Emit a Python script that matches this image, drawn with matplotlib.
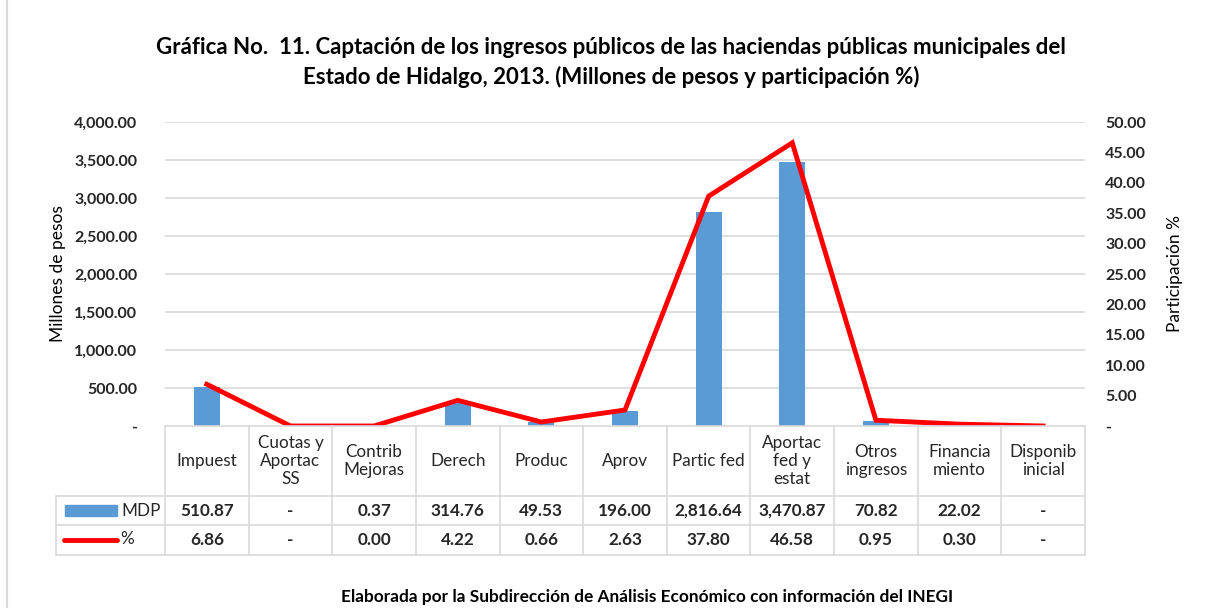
import matplotlib
matplotlib.use("Agg")
import matplotlib.pyplot as plt
from matplotlib.lines import Line2D
from matplotlib.patches import Rectangle

plt.rcParams['font.family'] = ['Lato', 'DejaVu Sans']

categories = ["Impuest", "Cuotas y\nAportac\nSS", "Contrib\nMejoras", "Derech", "Produc",
              "Aprov", "Partic fed", "Aportac\nfed y\nestat", "Otros\ningresos",
              "Financia\nmiento", "Disponib\ninicial"]
mdp = [510.87, 0.0, 0.37, 314.76, 49.53, 196.00, 2816.64, 3470.87, 70.82, 22.02, 0.0]
pct = [6.86, 0.0, 0.00, 4.22, 0.66, 2.63, 37.80, 46.58, 0.95, 0.30, 0.0]
mdp_labels = ["510.87", "-", "0.37", "314.76", "49.53", "196.00", "2,816.64", "3,470.87",
              "70.82", "22.02", "-"]
pct_labels = ["6.86", "-", "0.00", "4.22", "0.66", "2.63", "37.80", "46.58", "0.95", "0.30", "-"]
left_ticks = [0, 500, 1000, 1500, 2000, 2500, 3000, 3500, 4000]
left_tick_labels = ["-", "500.00", "1,000.00", "1,500.00", "2,000.00", "2,500.00",
                    "3,000.00", "3,500.00", "4,000.00"]
right_ticks = [0, 5, 10, 15, 20, 25, 30, 35, 40, 45, 50]
right_tick_labels = ["-", "5.00", "10.00", "15.00", "20.00", "25.00", "30.00", "35.00",
                     "40.00", "45.00", "50.00"]

W, H = 1212, 608
fig = plt.figure(figsize=(W / 100, H / 100), dpi=100)

def fy(py):
    return 1 - py / H

def fx(px):
    return px / W

x0, x1 = 165, 1085
ytop, ybot = 122, 426
ax = fig.add_axes([fx(x0), fy(ybot), fx(x1) - fx(x0), fy(ytop) - fy(ybot)])
n = len(categories)
xs = list(range(n))
ax.set_xlim(-0.5, n - 0.5)
ax.set_ylim(0, 4000)
grid_c = "#D9D9D9"
for t in left_ticks[1:]:
    ax.axhline(t, color=grid_c, lw=1.2, zorder=0)
ax.bar(xs, mdp, width=0.31, color="#5B9BD5", zorder=2)
ax.set_xticks([])
ax.set_yticks(left_ticks)
ax.set_yticklabels(left_tick_labels, fontsize=11.5, fontweight="bold", color="#262626")
ax.tick_params(axis="y", length=0, pad=20)
for s in ax.spines.values():
    s.set_visible(False)
ax.set_ylabel("Millones de pesos", fontsize=12.5, color="black", labelpad=6)

ax2 = ax.twinx()
ax2.set_ylim(0, 50)
ax2.plot(xs, pct, color="#FF0000", lw=3.5, zorder=3, solid_joinstyle="miter")
ax2.set_yticks(right_ticks)
ax2.set_yticklabels(right_tick_labels, fontsize=11.5, fontweight="bold", color="#262626")
ax2.tick_params(axis="y", length=0, pad=14.5)
for s in ax2.spines.values():
    s.set_visible(False)
ax2.set_ylabel("Participación %", fontsize=12.5, color="black", labelpad=15)

# Data table
tc = "#D9D9D9"
rows_y = [426, 496, 525, 555]
colw = (x1 - x0) / n
for i in range(n + 1):
    xp = x0 + i * colw
    fig.add_artist(Line2D([fx(xp), fx(xp)], [fy(426), fy(555)], color=tc, lw=1.2))
fig.add_artist(Line2D([fx(56), fx(56)], [fy(496), fy(555)], color=tc, lw=1.2))
fig.add_artist(Line2D([fx(x0), fx(x1)], [fy(426), fy(426)], color=tc, lw=1.2))
for yy in rows_y[1:]:
    fig.add_artist(Line2D([fx(56), fx(x1)], [fy(yy), fy(yy)], color=tc, lw=1.2))

for i in range(n):
    cx = fx(x0 + (i + 0.5) * colw)
    fig.text(cx, fy(461), categories[i], ha="center", va="center", fontsize=12.3,
             color="#262626", linespacing=1.18)
    fig.text(cx, fy(510.5), mdp_labels[i], ha="center", va="center", fontsize=12.3,
             fontweight="bold", color="#262626")
    fig.text(cx, fy(540), pct_labels[i], ha="center", va="center", fontsize=12.3,
             fontweight="bold", color="#262626")

fig.add_artist(Rectangle((fx(65), fy(516)), fx(117) - fx(65), fy(505) - fy(516),
                         color="#5B9BD5", transform=fig.transFigure))
fig.text(fx(121), fy(510.5), "MDP", ha="left", va="center", fontsize=12.3, color="#262626")
fig.add_artist(Line2D([fx(64), fx(117)], [fy(540), fy(540)], color="#FF0000", lw=3.5,
                      solid_capstyle="round"))
fig.text(fx(120), fy(539), "%", ha="left", va="center", fontsize=12.3, color="#262626")

# Outer border (left)
fig.add_artist(Line2D([fx(7), fx(7)], [0, 1], color="#D9D9D9", lw=1.5))

fig.text(fx(611), fy(47), "Gráfica No.  11. Captación de los ingresos públicos de las haciendas públicas municipales del",
         ha="center", va="center", fontsize=16, fontweight="bold", color="black")
fig.text(fx(611), fy(77), "Estado de Hidalgo, 2013. (Millones de pesos y participación %)",
         ha="center", va="center", fontsize=16, fontweight="bold", color="black")
fig.text(fx(647), fy(597), "Elaborada por la Subdirección de Análisis Económico con información del INEGI",
         ha="center", va="center", fontsize=12.4, fontweight="bold", color="black")

fig.savefig("out.png", dpi=100)
